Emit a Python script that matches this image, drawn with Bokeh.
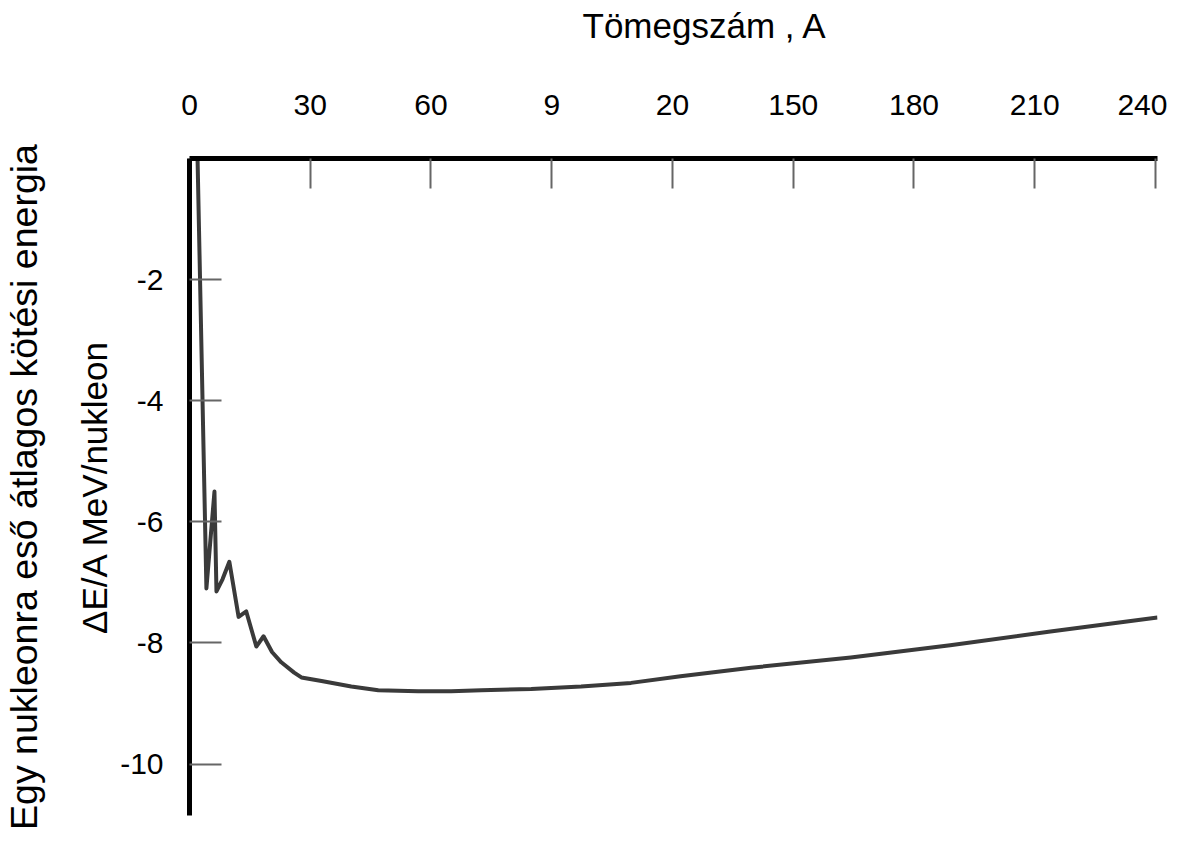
from bokeh.plotting import figure
from bokeh.models import FixedTicker, Title, Range1d
from bokeh.embed import file_html
from bokeh.resources import INLINE

# --- data ---
mass_number = [2.0, 4.2, 6.2, 6.7, 8.2, 9.9, 12.2, 14.1, 16.6, 18.4, 20.5, 22.8, 26.0,
               27.8, 32.8, 40.2, 46.9, 56.8, 65.0, 72.5, 84.9, 97.3, 109.7, 122.0,
               139.5, 164.3, 189.0, 213.9, 240.5]
binding_energy = [0.0, -7.10, -5.50, -7.15, -6.95, -6.66, -7.57, -7.48, -8.06, -7.89, -8.15,
                  -8.32, -8.49, -8.57, -8.63, -8.72, -8.78, -8.80, -8.80, -8.78, -8.76,
                  -8.72, -8.66, -8.55, -8.41, -8.24, -8.04, -7.81, -7.58]

x_ticks = [0, 30, 60, 90, 120, 150, 180, 210, 240]
x_tick_labels = ["0", "30", "60", "9", "20", "150", "180", "210", "240"]
y_ticks = [-2, -4, -6, -8, -10]
y_tick_labels = ["-2", "-4", "-6", "-8", "-10"]

FONT = "Liberation Sans"

p = figure(width=1167, height=833,
           x_range=Range1d(0, 240.5), y_range=Range1d(-10.85, 0),
           x_axis_location="above", title=None,
           output_backend="svg", toolbar_location=None,
           min_border_left=188, min_border_right=10,
           min_border_top=158, min_border_bottom=18)
p.outline_line_color = None
p.grid.visible = False
p.background_fill_color = "white"
p.border_fill_color = "white"

xa = p.xaxis[0]
xa.ticker = FixedTicker(ticks=x_ticks)
xa.major_label_overrides = {t: l for t, l in zip(x_ticks, x_tick_labels)}
xa.axis_line_width = 5
xa.axis_line_color = "black"
xa.major_tick_in = 30
xa.major_tick_out = 0
xa.major_tick_line_color = "#666666"
xa.major_tick_line_width = 2
xa.minor_tick_line_color = None
xa.major_label_text_font = FONT
xa.major_label_text_font_size = "30px"
xa.major_label_text_color = "black"
xa.major_label_standoff = 44

ya = p.yaxis[0]
ya.ticker = FixedTicker(ticks=y_ticks)
ya.major_label_overrides = {t: l for t, l in zip(y_ticks, y_tick_labels)}
ya.axis_line_width = 5
ya.axis_line_color = "black"
ya.major_tick_in = 32
ya.major_tick_out = 0
ya.major_tick_line_color = "#666666"
ya.major_tick_line_width = 2
ya.minor_tick_line_color = None
ya.major_label_text_font = FONT
ya.major_label_text_font_size = "30px"
ya.major_label_text_color = "black"
ya.major_label_standoff = 26
ya.axis_label = "ΔE/A MeV/nukleon"
ya.axis_label_text_font = FONT
ya.axis_label_text_font_size = "35px"
ya.axis_label_text_font_style = "normal"
ya.axis_label_text_color = "black"
ya.axis_label_standoff = 3

# spacing panels (blank) so the titles sit where they do in the reference
top_gap = Title(text=" ", text_font_size="10px", standoff=33)
p.add_layout(top_gap, "above")
top_title = Title(text="Tömegszám , A", align="left", offset=393,
                  text_font=FONT, text_font_size="35px", text_font_style="normal",
                  text_color="black", standoff=2)
p.add_layout(top_title, "above")

left_gap = Title(text=" ", text_font_size="10px", standoff=15)
p.add_layout(left_gap, "left")
left_title = Title(text="Egy nukleonra eső átlagos kötési energia", align="center",
                   text_font=FONT, text_font_size="37.5px", text_font_style="normal",
                   text_color="black", standoff=0)
p.add_layout(left_title, "left")

p.line(mass_number, binding_energy, line_color="#3a3a3a", line_width=4, line_join="round")

open("out.html", "w").write(file_html(p, INLINE))
